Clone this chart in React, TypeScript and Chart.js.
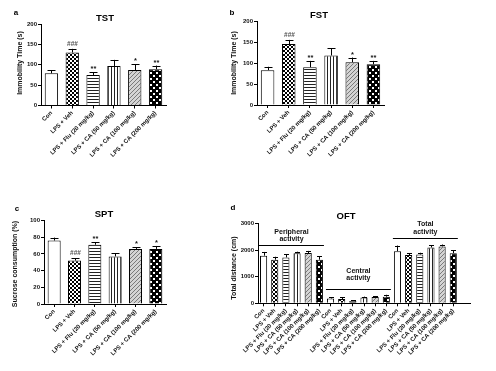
import React, { useEffect, useRef } from 'react';
import { Chart, registerables } from 'chart.js';
Chart.register(...registerables);

const FONT = '"Liberation Sans", Arial, sans-serif';

const categories = ['Con', 'LPS + Veh', 'LPS + Flu (20 mg/kg)', 'LPS + CA (50 mg/kg)', 'LPS + CA (100 mg/kg)', 'LPS + CA (200 mg/kg)'];

const tstMean = [79, 130, 75, 97, 87, 89];
const tstSem = [8, 9, 7, 15, 14, 9];
const tstSig = ['', '###', '**', '', '*', '**'];
const tstTicks = [0, 50, 100, 150, 200];

const fstMean = [83, 145, 90, 118, 102, 97];
const fstSem = [8, 10, 15, 17, 11, 8];
const fstSig = ['', '###', '**', '', '*', '**'];
const fstTicks = [0, 50, 100, 150, 200];

const sptMean = [76, 52, 71, 57, 66, 66];
const sptSem = [3.5, 2.8, 3, 4, 2.2, 3.5];
const sptSig = ['', '###', '**', '', '*', '*'];
const sptTicks = [0, 20, 40, 60, 80, 100];

const oftPeripheralMean = [1790, 1640, 1725, 1880, 1890, 1640];
const oftPeripheralSem = [140, 110, 120, 60, 80, 120];
const oftCentralMean = [180, 160, 90, 215, 240, 250];
const oftCentralSem = [55, 60, 25, 35, 35, 70];
const oftTotalMean = [1960, 1815, 1835, 2100, 2140, 1885];
const oftTotalSem = [210, 65, 65, 75, 70, 110];
const oftTicks = [0, 1000, 2000, 3000];
const oftGroupNames = [['Peripheral', 'activity'], ['Central', 'activity'], ['Total', 'activity']];
const oftGroupLevels = [2210, 520, 2440];

type Box = { left: number; top: number; width: number; height: number };
type Area = { left: number; right: number; top: number; bottom: number };
type Spec = {
  letter: string; title: string; yTitle: string;
  labels: string[]; mean: (number | null)[]; sem: number[]; sig: string[];
  ticks: number[]; box: Box; area: Area;
  letterPos: [number, number]; titlePos: [number, number]; yTitlePos: [number, number];
  barPct: number; cap: number; kinds: number[];
  groups?: { names: string[][]; levels: number[]; offsets: number[][] };
};

function makePattern(kind: number): CanvasPattern | string {
  if (kind === 0) return '#ffffff';
  const c = document.createElement('canvas');
  const g = c.getContext('2d')!;
  if (kind === 1) {
    c.width = 4; c.height = 4;
    g.fillStyle = '#fff'; g.fillRect(0, 0, 4, 4);
    g.fillStyle = '#000'; g.fillRect(0, 0, 2, 2); g.fillRect(2, 2, 2, 2);
  } else if (kind === 2) {
    c.width = 1; c.height = 3;
    g.fillStyle = '#fff'; g.fillRect(0, 0, 1, 3);
    g.fillStyle = '#222'; g.fillRect(0, 0, 1, 1);
  } else if (kind === 3) {
    c.width = 3; c.height = 1;
    g.fillStyle = '#fff'; g.fillRect(0, 0, 3, 1);
    g.fillStyle = '#222'; g.fillRect(0, 0, 1, 1);
  } else if (kind === 4) {
    c.width = 4; c.height = 4;
    g.fillStyle = '#d4d4d4'; g.fillRect(0, 0, 4, 4);
    g.fillStyle = '#7a7a7a';
    for (let i = 0; i < 4; i++) g.fillRect(i, 3 - i, 1, 1);
  } else {
    c.width = 6; c.height = 6;
    g.fillStyle = '#000'; g.fillRect(0, 0, 6, 6);
    g.fillStyle = '#fff'; g.fillRect(0, 0, 2, 2); g.fillRect(3, 3, 2, 2);
  }
  return g.createPattern(c, 'repeat')!;
}

const sixKinds = [0, 1, 2, 3, 4, 5];

const specs: Spec[] = [
  {
    letter: 'a', title: 'TST', yTitle: 'Immobility Time (s)', labels: categories,
    mean: tstMean, sem: tstSem, sig: tstSig, ticks: tstTicks,
    box: { left: 0, top: 0, width: 225, height: 185 }, area: { left: 41, right: 166, top: 24, bottom: 105.5 },
    letterPos: [16, 13], titlePos: [105, 18], yTitlePos: [20, 63], barPct: 0.64, cap: 4, kinds: sixKinds,
  },
  {
    letter: 'b', title: 'FST', yTitle: 'Immobility Time (s)', labels: categories,
    mean: fstMean, sem: fstSem, sig: fstSig, ticks: fstTicks,
    box: { left: 225, top: 0, width: 271, height: 185 }, area: { left: 257, right: 384, top: 21, bottom: 105 },
    letterPos: [232, 13], titlePos: [319, 15], yTitlePos: [234, 63], barPct: 0.64, cap: 4, kinds: sixKinds,
  },
  {
    letter: 'c', title: 'SPT', yTitle: 'Sucrose consumption (%)', labels: categories,
    mean: sptMean, sem: sptSem, sig: sptSig, ticks: sptTicks,
    box: { left: 0, top: 185, width: 225, height: 186 }, area: { left: 44, right: 166, top: 220.5, bottom: 304 },
    letterPos: [17, 209], titlePos: [104, 214], yTitlePos: [15, 264], barPct: 0.64, cap: 4, kinds: sixKinds,
  },
  {
    letter: 'd', title: 'OFT', yTitle: 'Total distance (cm)', labels: [...categories, ...categories, ...categories, ''],
    mean: [...oftPeripheralMean, ...oftCentralMean, ...oftTotalMean, null],
    sem: [...oftPeripheralSem, ...oftCentralSem, ...oftTotalSem, 0],
    sig: [], ticks: oftTicks,
    box: { left: 225, top: 185, width: 271, height: 186 }, area: { left: 258, right: 470, top: 223.5, bottom: 303.3 },
    letterPos: [233, 208], titlePos: [346, 216], yTitlePos: [234, 268], barPct: 0.64, cap: 2.5,
    kinds: [...sixKinds, ...sixKinds, ...sixKinds, 0],
    groups: { names: oftGroupNames, levels: oftGroupLevels, offsets: [[13.5, 6.5], [18, 11], [14, 6.5]] },
  },
];

function Panel({ spec }: { spec: Spec }) {
  const ref = useRef<HTMLCanvasElement>(null);
  useEffect(() => {
    const s = spec;
    const ox = s.box.left, oy = s.box.top;
    const annot = {
      id: 'annot',
      afterDatasetsDraw(chart: any) {
        const ctx = chart.ctx as CanvasRenderingContext2D;
        const meta = chart.getDatasetMeta(0);
        const yS = chart.scales.y;
        ctx.save();
        ctx.strokeStyle = '#000';
        ctx.lineWidth = 1;
        meta.data.forEach((bar: any, i: number) => {
          const m = s.mean[i];
          if (m == null) return;
          const x = Math.round(bar.x) + 0.5;
          const yTop = yS.getPixelForValue(m + s.sem[i]);
          ctx.beginPath();
          ctx.moveTo(x, bar.y);
          ctx.lineTo(x, yTop);
          ctx.moveTo(x - s.cap, Math.round(yTop) + 0.5);
          ctx.lineTo(x + s.cap, Math.round(yTop) + 0.5);
          ctx.stroke();
          const sg = s.sig[i];
          if (sg) {
            ctx.fillStyle = sg.startsWith('#') ? '#555' : '#111';
            ctx.font = `bold ${sg.startsWith('#') ? 6.5 : 7.5}px ${FONT}`;
            ctx.textAlign = 'center';
            ctx.textBaseline = 'alphabetic';
            ctx.fillText(sg, x, yTop - (sg.startsWith('#') ? 3 : 1));
          }
        });
        if (s.groups) {
          const g = s.groups;
          g.levels.forEach((lv, k) => {
            const first = meta.data[k * 6];
            const last = meta.data[k * 6 + 5];
            const w = first.width / 2;
            const y = Math.round(yS.getPixelForValue(lv)) + 0.5;
            ctx.beginPath();
            ctx.lineWidth = 1.2;
            ctx.moveTo(first.x - w - 1, y);
            ctx.lineTo(last.x + w + 1, y);
            ctx.stroke();
            const cx = (first.x + last.x) / 2;
            ctx.fillStyle = '#111';
            ctx.font = `bold 7px ${FONT}`;
            ctx.textAlign = 'center';
            ctx.textBaseline = 'middle';
            ctx.fillText(g.names[k][0], cx, y - g.offsets[k][0]);
            ctx.fillText(g.names[k][1], cx, y - g.offsets[k][1]);
          });
        }
        ctx.fillStyle = '#000';
        ctx.textAlign = 'center';
        ctx.textBaseline = 'middle';
        ctx.font = `bold 8px ${FONT}`;
        ctx.fillText(s.letter, s.letterPos[0] - ox, s.letterPos[1] - oy);
        ctx.font = `bold 9.5px ${FONT}`;
        ctx.fillText(s.title, s.titlePos[0] - ox, s.titlePos[1] - oy);
        ctx.save();
        ctx.translate(s.yTitlePos[0] - ox, s.yTitlePos[1] - oy);
        ctx.rotate(-Math.PI / 2);
        ctx.font = `bold 7px ${FONT}`;
        ctx.fillStyle = '#111';
        ctx.fillText(s.yTitle, 0, 0);
        ctx.restore();
        ctx.restore();
      },
    };
    const nLab = s.labels.length;
    const chart = new Chart(ref.current!, {
      type: 'bar',
      data: {
        labels: s.labels,
        datasets: [{
          data: s.mean as any,
          backgroundColor: s.kinds.map(makePattern) as any,
          borderColor: '#000',
          borderWidth: 1,
          barPercentage: s.barPct,
          categoryPercentage: 1,
        }],
      },
      options: {
        animation: false,
        responsive: false,
        maintainAspectRatio: false,
        devicePixelRatio: 1,
        layout: {
          padding: {
            left: 0,
            top: s.area.top - s.box.top,
            right: s.box.left + s.box.width - s.area.right,
            bottom: 0,
          },
        },
        plugins: { legend: { display: false }, tooltip: { enabled: false }, title: { display: false } },
        scales: {
          x: {
            offset: true,
            grid: {
              offset: false,
              drawOnChartArea: false,
              drawTicks: true,
              tickLength: 3,
              tickColor: (c: any) => (c.index === nLab - 1 && s.labels[nLab - 1] === '' ? 'rgba(0,0,0,0)' : '#000'),
            },
            border: { display: true, color: '#000', width: 1 },
            ticks: {
              autoSkip: false,
              minRotation: 45,
              maxRotation: 45,
              padding: 1,
              color: '#111',
              font: { family: FONT, size: 6, weight: 'bold' },
            },
            afterFit: (scale: any) => { scale.height = s.box.top + s.box.height - s.area.bottom; },
          },
          y: {
            min: s.ticks[0],
            max: s.ticks[s.ticks.length - 1],
            grid: { drawOnChartArea: false, drawTicks: true, tickLength: 3, tickColor: '#000' },
            border: { display: true, color: '#000', width: 1 },
            ticks: {
              padding: 1,
              color: '#111',
              font: { family: FONT, size: 6, weight: 'bold' },
              callback: (v: any) => String(v),
            },
            afterBuildTicks: (scale: any) => { scale.ticks = s.ticks.map((v) => ({ value: v })); },
            afterFit: (scale: any) => { scale.width = s.area.left - s.box.left; },
          },
        },
      },
      plugins: [annot],
    } as any);
    return () => chart.destroy();
  }, [spec]);
  return (
    <canvas
      ref={ref}
      width={spec.box.width}
      height={spec.box.height}
      style={{ position: 'absolute', left: spec.box.left, top: spec.box.top, width: spec.box.width, height: spec.box.height }}
    />
  );
}

export default function App() {
  return (
    <div style={{ position: 'absolute', left: 0, top: 0, width: 496, height: 371, background: '#fff', overflow: 'hidden' }}>
      {specs.map((s) => <Panel key={s.letter} spec={s} />)}
    </div>
  );
}
